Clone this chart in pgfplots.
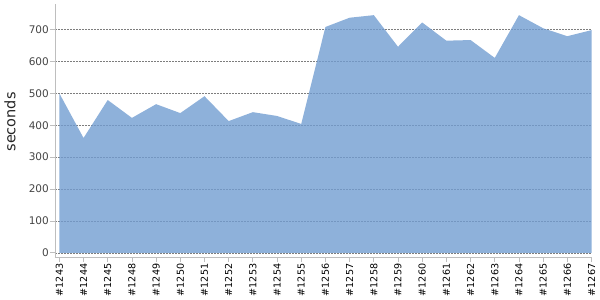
\documentclass[border=0pt]{standalone}
\usepackage{fontspec}
\setmainfont{DejaVu Sans}
\usepackage{pgfplots}
\pgfplotsset{compat=1.18}
\definecolor{areafill}{RGB}{114,157,209}
\definecolor{axisgray}{RGB}{190,190,190}
\definecolor{gridgray}{RGB}{125,125,125}
\definecolor{ticktext}{RGB}{68,68,68}
\begin{document}
\begin{tikzpicture}
\begin{axis}[
  scale only axis,
  width=537pt, height=253pt,
  xmin=-0.18, xmax=22.02,
  ymin=-13, ymax=780,
  axis lines*=left,
  axis line style={axisgray, line width=0.8pt},
  xtick={0,...,22},
  xticklabels={\#1243,\#1244,\#1245,\#1248,\#1249,\#1250,\#1251,\#1252,\#1253,\#1254,\#1255,\#1256,\#1257,\#1258,\#1259,\#1260,\#1261,\#1262,\#1263,\#1264,\#1265,\#1266,\#1267},
  ytick={0,100,...,700},
  tick align=outside,
  major tick length=5pt,
  tick style={axisgray, line width=0.8pt},
  xtick pos=bottom, ytick pos=left,
  ymajorgrids,
  major grid style={gridgray, dash pattern=on 2pt off 1pt, line width=0.45pt},
  /pgf/number format/assume math mode=true,
  yticklabel style={font=\fontsize{10.5}{11}\selectfont, text=ticktext, inner sep=1pt},
  xticklabel style={rotate=90, anchor=east, font=\fontsize{9.6}{10}\selectfont, text=black, inner sep=1.5pt},
  every axis y label/.style={at={(axis description cs:-0.0838,0.534)}, anchor=center, rotate=90, font=\fontsize{14.5}{15}\selectfont, text=black!85},
  ylabel={seconds},
  clip=false,
]
\addplot[draw=none, fill=areafill, fill opacity=0.8] coordinates {
(0,0) (0,500) (1,360) (2,479) (3,423) (4,466) (5,438) (6,491) (7,413) (8,441) (9,429) (10,404) (11,708) (12,737) (13,745) (14,646) (15,722) (16,665) (17,667) (18,611) (19,745) (20,704) (21,679) (22,698) (22,0)
} -- cycle;
\end{axis}
\path (-55pt,-43pt) rectangle (545pt,257pt);
\end{tikzpicture}
\end{document}
